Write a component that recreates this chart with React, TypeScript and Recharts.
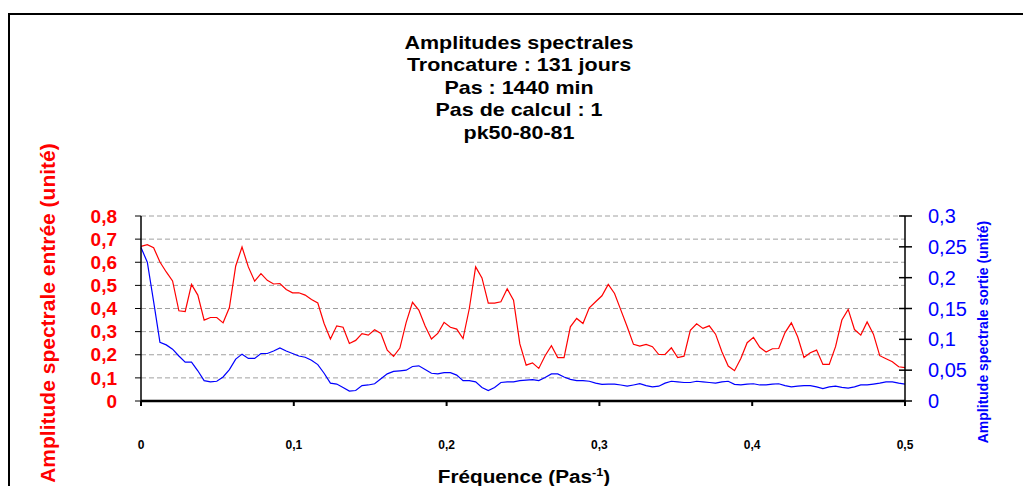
import React from 'react';
import { ComposedChart, Line, XAxis, YAxis, CartesianGrid } from 'recharts';

const FONT = '"Liberation Sans", Arial, Helvetica, sans-serif';

const titleLines = [
  'Amplitudes spectrales',
  'Troncature : 131 jours',
  'Pas : 1440 min',
  'Pas de calcul : 1',
  'pk50-80-81',
];
const leftAxisTitle = 'Amplitude spectrale entrée (unité)';
const rightAxisTitle = 'Amplitude spectrale sortie (unité)';
const xAxisTitle = 'Fréquence (Pas';
const xAxisTitleSup = '-1';

const FREQ_MAX = 0.5;
const xTicks = [0, 0.1, 0.2, 0.3, 0.4, 0.5];
const leftTicks = [0, 0.1, 0.2, 0.3, 0.4, 0.5, 0.6, 0.7, 0.8];
const rightTicks = [0, 0.05, 0.1, 0.15, 0.2, 0.25, 0.3];

// Amplitude spectrale entrée (red, left axis)
const inputAmplitude = [
  0.669, 0.676, 0.663, 0.601, 0.558, 0.519, 0.39, 0.387, 0.504, 0.458,
  0.35, 0.361, 0.361, 0.338, 0.404, 0.584, 0.666, 0.58, 0.518, 0.551,
  0.522, 0.506, 0.508, 0.482, 0.468, 0.468, 0.458, 0.439, 0.424, 0.335,
  0.268, 0.325, 0.319, 0.249, 0.262, 0.291, 0.285, 0.308, 0.292, 0.22,
  0.193, 0.229, 0.34, 0.427, 0.393, 0.324, 0.268, 0.292, 0.34, 0.319,
  0.311, 0.27, 0.4, 0.58, 0.532, 0.423, 0.423, 0.429, 0.485, 0.436,
  0.247, 0.155, 0.165, 0.141, 0.196, 0.239, 0.188, 0.188, 0.321, 0.357,
  0.335, 0.403, 0.429, 0.455, 0.504, 0.465, 0.393, 0.321, 0.245, 0.237,
  0.245, 0.235, 0.201, 0.201, 0.23, 0.188, 0.194, 0.306, 0.334, 0.314,
  0.325, 0.289, 0.213, 0.151, 0.131, 0.184, 0.252, 0.275, 0.232, 0.212,
  0.226, 0.227, 0.296, 0.338, 0.278, 0.188, 0.209, 0.22, 0.158, 0.158,
  0.235, 0.35, 0.396, 0.309, 0.285, 0.342, 0.289, 0.196, 0.183, 0.17,
  0.148, 0.144,
];

// Amplitude spectrale sortie (blue, right axis)
const outputAmplitude = [
  0.249, 0.225, 0.161, 0.095, 0.091, 0.084, 0.073, 0.063, 0.063, 0.049,
  0.033, 0.031, 0.032, 0.039, 0.051, 0.068, 0.076, 0.069, 0.069, 0.077,
  0.077, 0.081, 0.086, 0.081, 0.077, 0.073, 0.071, 0.066, 0.059, 0.045,
  0.029, 0.0275, 0.022, 0.016, 0.017, 0.025, 0.026, 0.028, 0.036, 0.044,
  0.048, 0.049, 0.05, 0.056, 0.057, 0.051, 0.045, 0.044, 0.046, 0.046,
  0.042, 0.033, 0.033, 0.031, 0.022, 0.017, 0.022, 0.03, 0.031, 0.031,
  0.033, 0.034, 0.0345, 0.033, 0.038, 0.044, 0.044, 0.039, 0.035, 0.033,
  0.033, 0.032, 0.029, 0.027, 0.0275, 0.0275, 0.026, 0.024, 0.026, 0.028,
  0.025, 0.023, 0.024, 0.029, 0.032, 0.031, 0.03, 0.03, 0.032, 0.031,
  0.03, 0.029, 0.031, 0.032, 0.027, 0.026, 0.0275, 0.028, 0.026, 0.026,
  0.0275, 0.028, 0.025, 0.023, 0.024, 0.025, 0.025, 0.023, 0.02, 0.023,
  0.024, 0.022, 0.021, 0.023, 0.026, 0.026, 0.0275, 0.029, 0.031, 0.031,
  0.029, 0.0275,
];

const STEP = FREQ_MAX / (inputAmplitude.length - 1);
const data = inputAmplitude.map((v, i) => ({
  f: i * STEP,
  entree: v,
  sortie: outputAmplitude[i],
}));

const fmt = (v: number) => String(Number(v.toFixed(2))).replace('.', ',');

const RightTick = (props: any) => {
  const { x, y, payload } = props;
  const axisX = x - 23;
  return (
    <g>
      <line x1={axisX - 6} x2={axisX + 7} y1={y} y2={y} stroke="#000" strokeWidth={1.5} />
      <text x={x} y={y} dy="0.355em" textAnchor="start" fill="#0000ff" fontSize={20} fontFamily={FONT}>
        {fmt(payload.value)}
      </text>
    </g>
  );
};

export default function App() {
  return (
    <div
      style={{
        position: 'absolute',
        left: 8,
        top: 8,
        width: 1015,
        height: 478,
        overflow: 'hidden',
        background: '#fff',
        fontFamily: FONT,
      }}
    >
      <div
        style={{
          position: 'absolute',
          left: 0,
          top: 5,
          width: 1100,
          height: 600,
          borderLeft: '2px solid #000',
          borderTop: '2px solid #000',
          boxSizing: 'border-box',
        }}
      />
      <div
        style={{
          position: 'absolute',
          left: 211,
          top: 23.5,
          width: 600,
          textAlign: 'center',
          fontWeight: 'bold',
          fontSize: 18.5,
          lineHeight: '22.5px',
          color: '#000',
          transform: 'scaleX(1.16)',
          transformOrigin: 'center',
        }}
      >
        {titleLines.map((t) => (
          <div key={t}>{t}</div>
        ))}
      </div>
      <div style={{ position: 'absolute', left: 0, top: 0 }}>
        <ComposedChart
          width={1015}
          height={478}
          data={data}
          margin={{ top: 208, right: 0, bottom: 0, left: 0 }}
        >
          <CartesianGrid
            yAxisId="left"
            vertical={false}
            stroke="#a0a0a0"
            strokeDasharray="5 3"
          />
          <XAxis
            dataKey="f"
            type="number"
            domain={[0, FREQ_MAX]}
            ticks={xTicks}
            interval={0}
            height={85}
            tickSize={5}
            tickMargin={34}
            tickFormatter={fmt}
            axisLine={{ stroke: '#000', strokeWidth: 2.5 }}
            tickLine={{ stroke: '#000', strokeWidth: 2 }}
            tick={{ fill: '#000', fontSize: 12, fontWeight: 'bold', fontFamily: FONT }}
          />
          <YAxis
            yAxisId="left"
            domain={[0, 0.8]}
            ticks={leftTicks}
            interval={0}
            width={133}
            tickSize={6}
            tickMargin={18}
            tickFormatter={fmt}
            axisLine={{ stroke: '#000', strokeWidth: 1.5 }}
            tickLine={{ stroke: '#000', strokeWidth: 1 }}
            tick={{ fill: '#ff0000', fontSize: 19, fontWeight: 'bold', fontFamily: FONT }}
          />
          <YAxis
            yAxisId="right"
            orientation="right"
            domain={[0, 0.3]}
            ticks={rightTicks}
            interval={0}
            width={118}
            tickSize={7}
            tickMargin={16}
            tickLine={false}
            axisLine={{ stroke: '#000', strokeWidth: 1.5 }}
            tick={<RightTick />}
          />
          <Line
            yAxisId="left"
            dataKey="entree"
            stroke="#ff0000"
            strokeWidth={1.2}
            dot={false}
            isAnimationActive={false}
          />
          <Line
            yAxisId="right"
            dataKey="sortie"
            stroke="#0000ff"
            strokeWidth={1.2}
            dot={false}
            isAnimationActive={false}
          />
        </ComposedChart>
      </div>
      <div
        style={{
          position: 'absolute',
          left: -160,
          top: 291.5,
          width: 400,
          height: 26,
          lineHeight: '26px',
          textAlign: 'center',
          color: '#ff0000',
          fontWeight: 'bold',
          fontSize: 21,
          whiteSpace: 'nowrap',
          transform: 'rotate(-90deg)',
          transformOrigin: 'center',
        }}
      >
        {leftAxisTitle}
      </div>
      <div
        style={{
          position: 'absolute',
          left: 824.7,
          top: 314.5,
          width: 300,
          height: 18,
          lineHeight: '18px',
          textAlign: 'center',
          color: '#0000ff',
          fontWeight: 'bold',
          fontSize: 14,
          whiteSpace: 'nowrap',
          transform: 'rotate(-90deg)',
          transformOrigin: 'center',
        }}
      >
        {rightAxisTitle}
      </div>
      <div
        style={{
          position: 'absolute',
          left: 315.5,
          top: 457.75,
          width: 400,
          height: 22,
          lineHeight: '22px',
          textAlign: 'center',
          color: '#000',
          fontWeight: 'bold',
          fontSize: 18,
          whiteSpace: 'nowrap',
          transform: 'scaleX(1.15)',
          transformOrigin: 'center',
        }}
      >
        {xAxisTitle}
        <span style={{ fontSize: 11, position: 'relative', top: -7 }}>{xAxisTitleSup}</span>)
      </div>
    </div>
  );
}
